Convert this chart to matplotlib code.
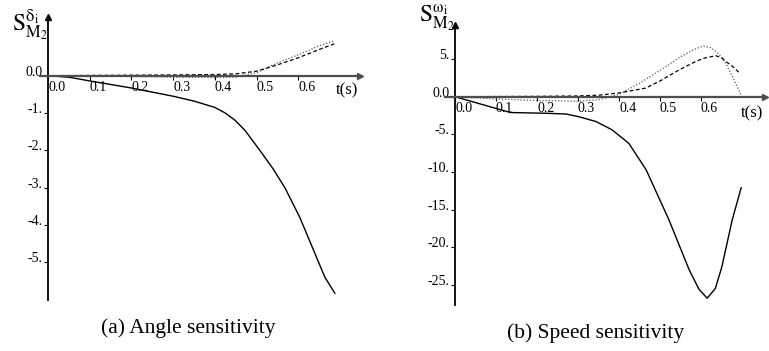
import numpy as np
import matplotlib.pyplot as plt

plt.rcParams['font.family'] = ['Liberation Serif', 'DejaVu Serif']
plt.rcParams['mathtext.fontset'] = 'stix'

# (a) angle sensitivity
t_a_solid = [0.0, 0.05, 0.1, 0.2, 0.3, 0.35, 0.4, 0.425, 0.448, 0.472, 0.508,
             0.54, 0.568, 0.604, 0.64, 0.664, 0.688]
s_a_solid = [0.0, -0.04, -0.14, -0.33, -0.55, -0.68, -0.85, -1.0, -1.19,
             -1.46, -2.0, -2.5, -3.0, -3.8, -4.76, -5.4, -5.83]
t_a_dot = [0.0, 0.1, 0.2, 0.3, 0.4, 0.45, 0.5, 0.55, 0.6, 0.65, 0.688]
s_a_dot = [0.0, -0.01, -0.02, -0.04, -0.05, -0.04, 0.08, 0.34, 0.56, 0.8, 0.94]
t_a_dash = [0.0, 0.3, 0.4, 0.45, 0.5, 0.55, 0.6, 0.65, 0.688]
s_a_dash = [0.0, 0.02, 0.03, 0.05, 0.12, 0.29, 0.48, 0.7, 0.86]

# (b) speed sensitivity
t_b_solid = [0.0, 0.135, 0.222, 0.271, 0.302, 0.344, 0.383, 0.424, 0.466,
             0.522, 0.571, 0.595, 0.615, 0.635, 0.651, 0.676, 0.698]
s_b_solid = [0.0, -2.1, -2.2, -2.3, -2.66, -3.3, -4.4, -6.2, -9.7, -16.4,
             -23.0, -25.6, -26.8, -25.5, -22.6, -16.4, -12.1]
t_b_dot = [0.0, 0.1, 0.2, 0.3, 0.35, 0.4, 0.45, 0.5, 0.55, 0.58, 0.605,
           0.625, 0.645, 0.66, 0.68, 0.697]
s_b_dot = [0.0, -0.3, -0.5, -0.6, -0.4, 0.3, 1.8, 3.5, 5.3, 6.2, 6.75, 6.5,
           5.6, 4.5, 2.3, 0.3]
t_b_dash = [0.0, 0.2, 0.3, 0.35, 0.4, 0.465, 0.5, 0.546, 0.58, 0.605, 0.636,
            0.65, 0.663, 0.68, 0.693]
s_b_dash = [0.0, 0.05, 0.1, 0.2, 0.5, 1.15, 2.1, 3.55, 4.5, 5.1, 5.45, 5.2,
            4.6, 3.9, 3.2]

xticks = [0.0, 0.1, 0.2, 0.3, 0.4, 0.5, 0.6]
xtick_labels = ["0.0", "0.1", "0.2", "0.3", "0.4", "0.5", "0.6"]
yticks_a = [0, -1, -2, -3, -4, -5]
ytick_labels_a = ["0.0", "-1.", "-2.", "-3.", "-4.", "-5."]
yticks_b = [5, 0, -5, -10, -15, -20, -25]
ytick_labels_b = ["5.", "0.0", "-5.", "-10.", "-15.", "-20.", "-25."]

W, H = 769, 351
fig = plt.figure(figsize=(W / 100, H / 100), dpi=100)


def px_axes(x0, x1, ytop, ybot):
    return fig.add_axes([x0 / W, (H - ybot) / H, (x1 - x0) / W, (ybot - ytop) / H])


def px_text(x, y, s, **kw):
    # place a text by its pixel position from the top-left corner
    return fig.text(x / W, 1 - y / H, s, **kw)


def style(ax, yt, ytl):
    for s in ["top", "right"]:
        ax.spines[s].set_visible(False)
    ax.spines["left"].set_position(("data", 0))
    ax.spines["bottom"].set_position(("data", 0))
    ax.spines["left"].set_linewidth(1.3)
    ax.spines["bottom"].set_linewidth(1.6)
    ax.spines["bottom"].set_color("0.3")
    ax.set_xticks(xticks)
    ax.set_xticklabels(xtick_labels, ha="left")
    ax.set_yticks(yt)
    ax.set_yticklabels(ytl, va="baseline")
    ax.tick_params(axis="both", direction="out", length=3, width=0.8, pad=1,
                   labelsize=10)
    ax.plot(1, 0, ">", color="0.3", ms=5, transform=ax.get_yaxis_transform(),
            clip_on=False)
    ax.plot(0, 1, "^", color="k", ms=4, transform=ax.get_xaxis_transform(),
            clip_on=False)


ax1 = px_axes(39.7, 359.9, 17.1, 300)
ax1.plot(t_a_solid, s_a_solid, color="k", lw=1.0)
ax1.plot(t_a_dot, s_a_dot, color="0.35", lw=0.9, ls=(0, (1, 1.5)))
ax1.plot(t_a_dash, s_a_dash, color="k", lw=0.9, ls=(0, (3, 2)))
ax1.set_xlim(-0.02, 0.748)
ax1.set_ylim(-6.01, 1.57)
style(ax1, yticks_a, ytick_labels_a)

ax2 = px_axes(444.75, 764.55, 25.3, 305)
ax2.plot(t_b_solid, s_b_solid, color="k", lw=1.0)
ax2.plot(t_b_dot, s_b_dot, color="0.35", lw=0.9, ls=(0, (1, 1.5)))
ax2.plot(t_b_dash, s_b_dash, color="k", lw=0.9, ls=(0, (3, 2)))
ax2.set_xlim(-0.025, 0.755)
ax2.set_ylim(-27.7, 9.5)
style(ax2, yticks_b, ytick_labels_b)

px_text(12, 31, r"$\mathrm{S}_{\mathrm{M}_2}^{\mathrm{δ}_\mathrm{i}}$",
        fontsize=17, va="baseline")
px_text(419, 23, r"$\mathrm{S}_{\mathrm{M}_2}^{\mathrm{ω}_\mathrm{i}}$",
        fontsize=17, va="baseline")

px_text(347, 90, "t(s)", fontsize=12, ha="center", va="center")
px_text(752, 113, "t(s)", fontsize=12, ha="center", va="center")

px_text(188, 328, "(a) Angle sensitivity", fontsize=15.5, ha="center",
        va="center")
px_text(596, 333, "(b) Speed sensitivity", fontsize=15.5, ha="center",
        va="center")

fig.savefig("out.png", dpi=100)
